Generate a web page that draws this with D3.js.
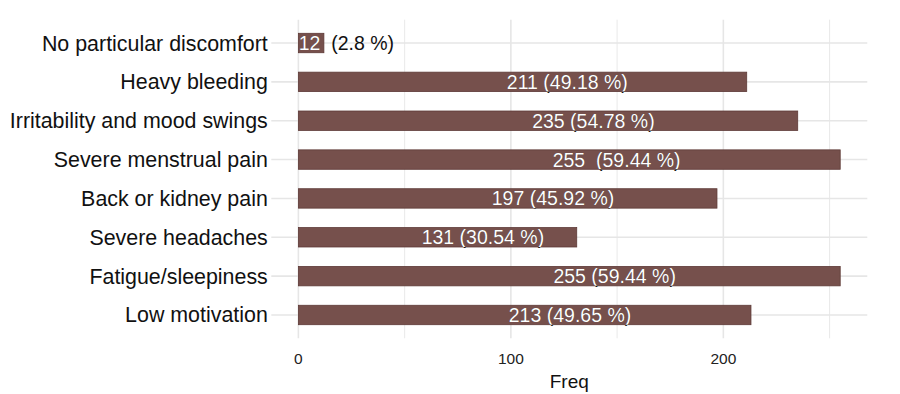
<!DOCTYPE html>
<html>
<head>
<meta charset="utf-8">
<script src="https://cdn.jsdelivr.net/npm/d3@7"></script>
<style>
  body { margin: 0; background: #fff; }
  text { font-family: "Liberation Sans", Arial, Helvetica, sans-serif; }
</style>
</head>
<body>
<svg id="chart"></svg>
<script>
// categories, top to bottom
var categories = [
  "No particular discomfort",
  "Heavy bleeding",
  "Irritability and mood swings",
  "Severe menstrual pain",
  "Back or kidney pain",
  "Severe headaches",
  "Fatigue/sleepiness",
  "Low motivation"
];
var freq = [12, 211, 235, 255, 197, 131, 255, 213];
var barLabels = [
  "12  (2.8 %)",
  "211 (49.18 %)",
  "235 (54.78 %)",
  "255  (59.44 %)",
  "197 (45.92 %)",
  "131 (30.54 %)",
  "255 (59.44 %)",
  "213 (49.65 %)"
];
var majorTicks = [0, 100, 200];
var minorTicks = [50, 150, 250];

var svgWidth = 900, svgHeight = 394;
var panel = { left: 271.3, right: 867.3, top: 19.7, bottom: 338.3 };
var barColor = "#76504c", barStroke = "#5e3a37", gridColor = "#e6e6e6";

var svg = d3.select("#chart")
    .attr("width", svgWidth)
    .attr("height", svgHeight);

var maxVal = d3.max(freq);
var x = d3.scaleLinear()
    .domain([-0.05 * maxVal, maxVal * 1.05])
    .range([panel.left, panel.right]);

var y = d3.scaleBand()
    .domain(categories)
    .range([panel.top, panel.bottom])
    .paddingInner(0)
    .paddingOuter(0.1);

var barH = y.step() * 0.5;
var center = function (d) { return y(d) + y.bandwidth() / 2; };

// grid
var grid = svg.append("g").classed("grid", true);
grid.selectAll(".minor")
    .data(minorTicks)
    .enter().append("line")
    .attr("x1", x).attr("x2", x)
    .attr("y1", panel.top).attr("y2", panel.bottom)
    .attr("stroke", gridColor).attr("stroke-width", 0.9);
grid.selectAll(".major-x")
    .data(majorTicks)
    .enter().append("line")
    .attr("x1", x).attr("x2", x)
    .attr("y1", panel.top).attr("y2", panel.bottom)
    .attr("stroke", gridColor).attr("stroke-width", 1.6);
grid.selectAll(".major-y")
    .data(categories)
    .enter().append("line")
    .attr("x1", panel.left).attr("x2", panel.right)
    .attr("y1", center).attr("y2", center)
    .attr("stroke", gridColor).attr("stroke-width", 1.6);

// bars
var bars = svg.append("g").classed("bars", true);
bars.selectAll("rect")
    .data(categories)
    .enter().append("rect")
    .attr("x", x(0))
    .attr("y", function (d) { return center(d) - barH / 2; })
    .attr("width", function (d, i) { return x(freq[i]) - x(0); })
    .attr("height", barH)
    .attr("fill", barColor)
    .attr("stroke", barStroke)
    .attr("stroke-width", 0.8);

// clip for white text inside bars
var clip = svg.append("defs").append("clipPath").attr("id", "barclip");
clip.selectAll("rect")
    .data(categories)
    .enter().append("rect")
    .attr("x", x(0))
    .attr("y", function (d) { return center(d) - barH / 2; })
    .attr("width", function (d, i) { return x(freq[i]) - x(0); })
    .attr("height", barH);

function drawLabels(g, color) {
    g.selectAll("text")
        .data(categories)
        .enter().append("text")
        .attr("y", function (d) { return center(d) + 7; })
        .style("white-space", "pre")
        .attr("font-size", 19.5)
        .attr("fill", color)
        .text(function (d, i) { return barLabels[i]; })
        .attr("x", function (d, i) {
            var w = this.getComputedTextLength();
            return x(freq[i] / 2) - 0.13 * w;
        });
}
drawLabels(svg.append("g").classed("labels-out", true), "#111");
drawLabels(svg.append("g").classed("labels-in", true).attr("clip-path", "url(#barclip)"), "#fff");

// y axis labels
svg.append("g").classed("y-labels", true)
    .selectAll("text")
    .data(categories)
    .enter().append("text")
    .attr("x", panel.left - 3.5)
    .attr("y", function (d) { return center(d) + 7.5; })
    .attr("text-anchor", "end")
    .attr("font-size", 21.4)
    .attr("fill", "#111")
    .text(function (d) { return d; });

// x axis labels
svg.append("g").classed("x-labels", true)
    .selectAll("text")
    .data(majorTicks)
    .enter().append("text")
    .attr("x", x)
    .attr("y", 363.5)
    .attr("text-anchor", "middle")
    .attr("font-size", 15.5)
    .attr("fill", "#222")
    .text(function (d) { return d; });

svg.append("text")
    .attr("x", (panel.left + panel.right) / 2)
    .attr("y", 388)
    .attr("text-anchor", "middle")
    .attr("font-size", 19)
    .attr("fill", "#111")
    .text("Freq");
</script>
</body>
</html>
